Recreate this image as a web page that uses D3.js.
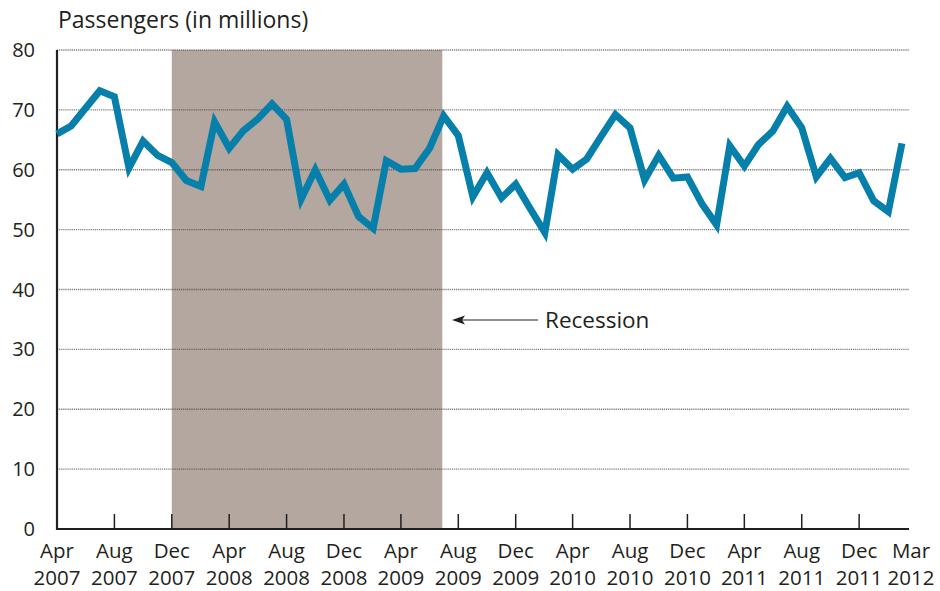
<!DOCTYPE html>
<html>
<head>
<meta charset="utf-8">
<script src="https://cdn.jsdelivr.net/npm/d3@7"></script>
<style>
  body { margin: 0; background: #fff; }
  text { font-family: "Open Sans", sans-serif; fill: #231f20; }
</style>
</head>
<body>
<div id="chart-container"></div>
<script>
// monthly passengers, Apr 2007 .. Mar 2012 (millions)
const startMonth = new Date(2007, 3, 1);
const passengers = [
  66.0, 67.3, 70.3, 73.2, 72.2, 60.3, 64.8, 62.4, 61.2, 58.2, 57.2, 68.0,
  63.6, 66.5, 68.5, 71.0, 68.4, 55.1, 60.0, 54.9, 57.6, 52.2, 50.2, 61.5,
  60.1, 60.2, 63.6, 69.0, 65.7, 55.5, 59.5, 55.3, 57.6, 53.5, 49.5, 62.5,
  60.1, 61.8, 65.6, 69.2, 67.0, 58.3, 62.4, 58.6, 58.8, 54.3, 50.8, 64.0,
  60.6, 64.2, 66.5, 70.6, 67.0, 58.8, 61.9, 58.7, 59.5, 54.8, 53.0, 64.4
];
const yTicks = [0, 10, 20, 30, 40, 50, 60, 70, 80];
const xTickMonths = ["2007-04", "2007-08", "2007-12", "2008-04", "2008-08", "2008-12",
  "2009-04", "2009-08", "2009-12", "2010-04", "2010-08", "2010-12",
  "2011-04", "2011-08", "2011-12"];
const lastLabel = "2012-03";
// recession: Dec 2007 through June 2009
const recession = ["2007-12-01", "2009-06-28"];

const parseMonth = d3.timeParse("%Y-%m");
const data = passengers.map((v, i) => ({ date: d3.timeMonth.offset(startMonth, i), value: v }));

const width = 940, height = 591;
const margin = { top: 50, right: 31, bottom: 62, left: 57 };

const x = d3.scaleTime()
  .domain([startMonth, new Date(2012, 2, 16)])
  .range([margin.left, width - margin.right]);
const y = d3.scaleLinear()
  .domain([0, 80])
  .range([height - margin.bottom, margin.top]);

const svg = d3.select("#chart-container")
  .append("svg")
  .attr("width", width)
  .attr("height", height);

// recession shading
svg.append("rect")
  .attr("x", x(new Date(recession[0])))
  .attr("y", y(80))
  .attr("width", x(new Date(recession[1])) - x(new Date(recession[0])))
  .attr("height", y(0) - y(80))
  .attr("fill", "#b3a79f");

// dotted gridlines
svg.selectAll(".grid")
  .data(yTicks.slice(1))
  .join("line")
  .attr("x1", margin.left)
  .attr("x2", width - margin.right)
  .attr("y1", d => y(d))
  .attr("y2", d => y(d))
  .attr("stroke", "#4a4440")
  .attr("stroke-opacity", 0.7)
  .attr("stroke-width", 1.4)
  .attr("stroke-dasharray", "1.2,0.9");

// y labels
svg.selectAll(".ylab")
  .data(yTicks)
  .join("text")
  .attr("x", 35)
  .attr("y", d => y(d))
  .attr("dy", "0.35em")
  .attr("text-anchor", "end")
  .style("font-size", "20px")
  .text(d => d);

// x ticks (pointing up, inside)
const tickDates = xTickMonths.map(parseMonth);
svg.selectAll(".xtick")
  .data(tickDates.slice(1))
  .join("line")
  .attr("x1", d => x(d))
  .attr("x2", d => x(d))
  .attr("y1", y(0))
  .attr("y2", y(0) - 15)
  .attr("stroke", "#231f20")
  .attr("stroke-width", 1.5);

// x labels
const labelDates = tickDates.map(d => ({ date: d, px: x(d) }))
  .concat([{ date: parseMonth(lastLabel), px: width - margin.right + 2 }]);
const xlab = svg.selectAll(".xlab")
  .data(labelDates)
  .join("text")
  .attr("text-anchor", "middle")
  .style("font-size", "20.5px");
xlab.append("tspan")
  .attr("x", d => d.px)
  .attr("y", 558)
  .text(d => d3.timeFormat("%b")(d.date));
xlab.append("tspan")
  .attr("x", d => d.px)
  .attr("y", 585)
  .text(d => d3.timeFormat("%Y")(d.date));

// axes lines
svg.append("line")
  .attr("x1", margin.left).attr("x2", margin.left)
  .attr("y1", y(80)).attr("y2", y(0) + 1)
  .attr("stroke", "#231f20").attr("stroke-width", 2.2);
svg.append("line")
  .attr("x1", margin.left - 1).attr("x2", width - margin.right)
  .attr("y1", y(0)).attr("y2", y(0))
  .attr("stroke", "#231f20").attr("stroke-width", 2.2);

// the data line
const line = d3.line()
  .x(d => x(d.date))
  .y(d => y(d.value));

svg.append("path")
  .datum(data)
  .attr("fill", "none")
  .attr("stroke", "#0680aa")
  .attr("stroke-width", 7)
  .attr("stroke-linejoin", "miter")
  .attr("d", line);

// title
svg.append("text")
  .attr("x", 58)
  .attr("y", 28)
  .style("font-size", "23px")
  .text("Passengers (in millions)");

// recession annotation
svg.append("line")
  .attr("x1", 460).attr("x2", 538)
  .attr("y1", 320).attr("y2", 320)
  .attr("stroke", "#231f20")
  .attr("stroke-width", 1.2);
svg.append("path")
  .attr("d", "M452,320 L465,315.5 L462,320 L465,324.5 Z")
  .attr("fill", "#231f20");

svg.append("text")
  .attr("x", 545)
  .attr("y", 328)
  .style("font-size", "22.5px")
  .text("Recession");
</script>
</body>
</html>
